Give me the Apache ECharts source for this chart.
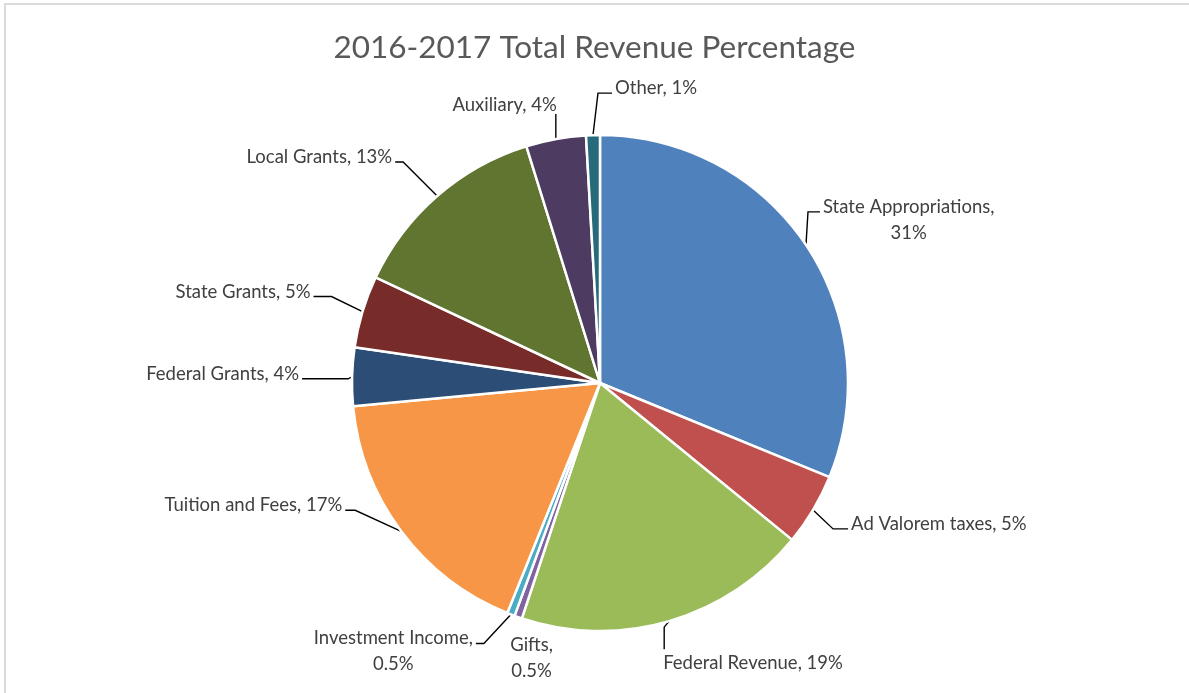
<!DOCTYPE html>
<html>
<head>
<meta charset="utf-8">
<script src="https://cdn.jsdelivr.net/npm/echarts@6/dist/echarts.min.js"></script>
<style>
  html, body { margin: 0; padding: 0; background: #fff; }
  #chart { width: 1189px; height: 693px; }
</style>
</head>
<body>
<div id="chart"></div>
<script>
const categories = [
  "State Appropriations", "Ad Valorem taxes", "Federal Revenue", "Gifts",
  "Investment Income", "Tuition and Fees", "Federal Grants", "State Grants",
  "Local Grants", "Auxiliary", "Other"
];
const shares = [31.2, 4.7, 19.2, 0.5, 0.5, 17.4, 3.8, 4.7, 13.2, 3.9, 0.9];
const shareLabels = ["31%", "5%", "19%", "0.5%", "0.5%", "17%", "4%", "5%", "13%", "4%", "1%"];
const sliceColors = [
  "#4F81BD", "#C0504D", "#9BBB59", "#8064A2", "#4BACC6", "#F79646",
  "#2C4D75", "#772C2A", "#5F7530", "#4D3B62", "#276A7C"
];
// labels that wrap the value onto a second line
const twoLine = ["State Appropriations", "Gifts", "Investment Income"];

// Excel-style label placement, relative to where the slice's leader line starts.
// side: r/l = elbow line to a label right/left of it, up/down = straight line, none = no line
const labelPlacement = [
  { side: "r", ex: 17, ey: -33, seg: 12 },
  { side: "r", ex: 38, ey: 19, seg: 15 },
  { side: "down", ey: 28, ex: -5 },
  { side: "none", ex: -8, ey: 15 },
  { side: "l", ex: -38, ey: 29, seg: 8 },
  { side: "l", ex: -59, ey: -21, seg: 10 },
  { side: "l", ex: -53, ey: 2, seg: 46 },
  { side: "l", ex: -52, ey: -15, seg: 18 },
  { side: "l", ex: -45, ey: -34, seg: 8 },
  { side: "up", ey: 25 },
  { side: "r", ex: 22, ey: -42, seg: 14 }
];

const LINE_H = 26;

function placeLabel(p) {
  const pl = labelPlacement[p.dataIndex];
  const pts = p.labelLinePoints;
  if (!pts) return {};
  const a = pts[0];
  const w = p.labelRect.width;
  let left, top, line;
  if (pl.side === "r" || pl.side === "l") {
    const yLine = a[1] + pl.ey;
    top = yLine - 5 - LINE_H / 2;
    if (pl.side === "r") {
      left = a[0] + pl.ex;
      line = [a, [left - 3 - pl.seg, yLine], [left - 3, yLine]];
    } else {
      left = a[0] + pl.ex - w;
      line = [a, [left + w + 3 + pl.seg, yLine], [left + w + 3, yLine]];
    }
  } else if (pl.side === "down") {
    const x = a[0] + pl.ex;
    left = x - 1;
    top = a[1] + pl.ey + 1;
    line = [a, [x, a[1] + 6], [x, a[1] + pl.ey]];
  } else if (pl.side === "up") {
    left = a[0] + 1 - w;
    top = a[1] - pl.ey + 4 - LINE_H;
    line = [a, [a[0], a[1] - pl.ey / 2], [a[0], a[1] - pl.ey]];
  } else {
    left = a[0] + pl.ex;
    top = a[1] + pl.ey;
    line = [a, a, a];
  }
  return {
    x: left + w / 2,
    y: top,
    align: "center",
    verticalAlign: "top",
    labelLinePoints: line
  };
}

const chart = echarts.init(document.getElementById("chart"));

chart.setOption({
  animation: false,
  color: sliceColors,
  title: {
    text: "2016-2017 Total Revenue Percentage",
    left: "center",
    top: 27,
    textStyle: { fontFamily: "Lato", fontSize: 31.5, fontWeight: "normal", color: "#595959" }
  },
  graphic: [
    {
      type: "rect",
      shape: { x: 5, y: 4, width: 1300, height: 800 },
      style: { fill: "none", stroke: "#d9d9d9", lineWidth: 2 },
      silent: true
    }
  ],
  series: [
    {
      type: "pie",
      center: [600, 383],
      radius: 248,
      startAngle: 90,
      clockwise: true,
      avoidLabelOverlap: false,
      itemStyle: { borderColor: "#fff", borderWidth: 2.5 },
      label: {
        show: true,
        position: "outside",
        fontFamily: "Lato",
        fontSize: 18.5,
        color: "#404040",
        lineHeight: LINE_H,
        formatter: (p) => twoLine.includes(p.name)
          ? p.name + ",\n" + shareLabels[p.dataIndex]
          : p.name + ", " + shareLabels[p.dataIndex]
      },
      labelLine: {
        show: true,
        length: 20,
        length2: 10,
        lineStyle: { color: "#000", width: 1.4 }
      },
      labelLayout: placeLabel,
      data: categories.map((c, i) => ({
        name: c,
        value: shares[i],
        labelLine: { show: labelPlacement[i].side !== "none" }
      }))
    }
  ]
});
</script>
</body>
</html>
